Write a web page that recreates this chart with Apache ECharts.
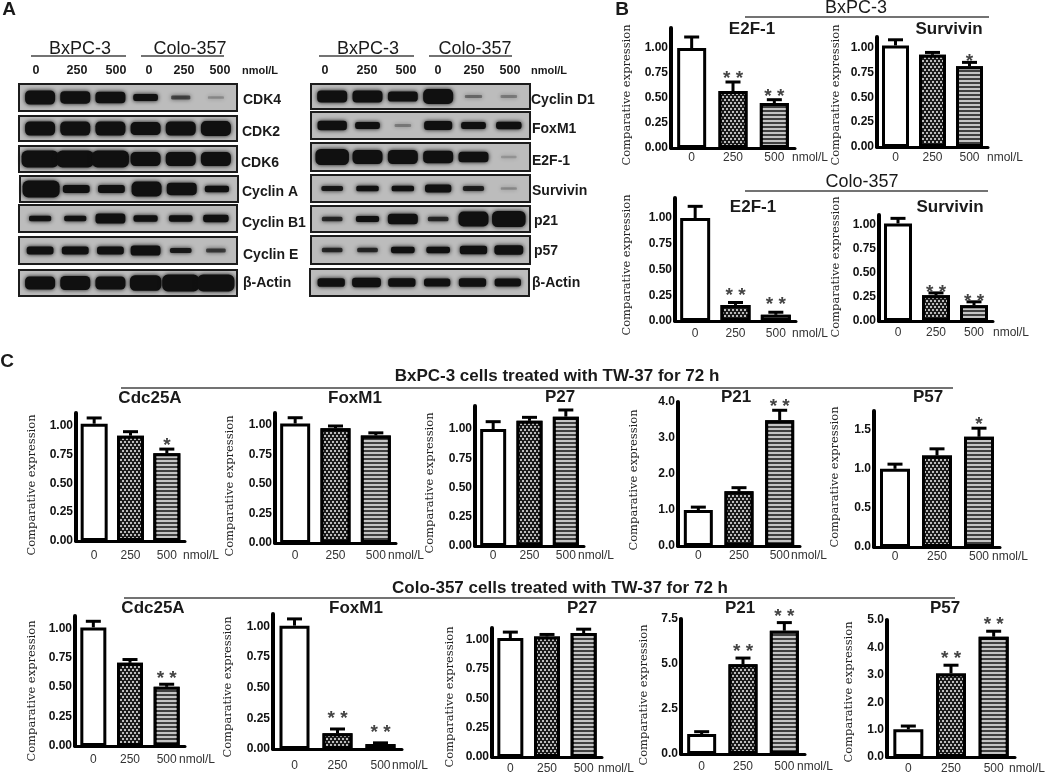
<!DOCTYPE html>
<html><head><meta charset="utf-8">
<style>html,body{margin:0;padding:0;background:#fff}#c{width:1050px;height:776px;filter:blur(0.45px)}</style>
<script src="https://cdn.jsdelivr.net/npm/echarts@6/dist/echarts.min.js"></script>
</head><body><div id="c"></div>
<script>
// ---------- data ----------
const doses = ['0','250','500'];
const ticksFrac = ['0.00','0.25','0.50','0.75','1.00'];
const ticksP21a = ['0.0','1.0','2.0','3.0','4.0'];
const ticksP57a = ['0.0','0.5','1.0','1.5'];
const ticksP21b = ['0.0','2.5','5.0','7.5'];
const ticksP57b = ['0.0','1.0','2.0','3.0','4.0','5.0'];

const bE2f1Bx = [1.0,0.57,0.45],   bE2f1BxErr = [0.11,0.09,0.033],   bE2f1BxStars = ['','* *','* *'];
const bSurvBx = [1.02,0.926,0.81], bSurvBxErr = [0.057,0.024,0.04],  bSurvBxStars = ['','','*'];
const bE2f1Co = [1.0,0.156,0.06],  bE2f1CoErr = [0.114,0.024,0.025], bE2f1CoStars = ['','* *','* *'];
const bSurvCo = [1.017,0.268,0.164], bSurvCoErr = [0.053,0.025,0.036], bSurvCoStars = ['','* *','* *'];

const cCdcBx = [1.017,0.913,0.762], cCdcBxErr = [0.05,0.035,0.035], cCdcBxStars = ['','','*'];
const cFoxBx = [1.011,0.972,0.91],  cFoxBxErr = [0.049,0.018,0.022], cFoxBxStars = ['','',''];
const cP27Bx = [1.0,1.07,1.106],    cP27BxErr = [0.063,0.03,0.057], cP27BxStars = ['','',''];
const cP21Bx = [1.0,1.52,3.49],     cP21BxErr = [0.08,0.1,0.28],    cP21BxStars = ['','','* *'];
const cP57Bx = [1.0,1.17,1.41],     cP57BxErr = [0.06,0.086,0.11],  cP57BxStars = ['','','*'];

const cCdcCo = [1.008,0.707,0.503], cCdcCoErr = [0.052,0.028,0.022], cCdcCoStars = ['','','* *'];
const cFoxCo = [1.005,0.128,0.04],  cFoxCoErr = [0.055,0.035,0.01],  cFoxCoStars = ['','* *','* *'];
const cP27Co = [1.014,1.028,1.057], cP27CoErr = [0.051,0.017,0.033], cP27CoStars = ['','',''];
const cP21Co = [1.11,4.99,6.85],    cP21CoErr = [0.13,0.34,0.45],    cP21CoStars = ['','* *','* *'];
const cP57Co = [1.01,3.05,4.39],    cP57CoErr = [0.12,0.3,0.2],      cP57CoStars = ['','* *','* *'];

const cdk4 = [.85,.75,.7,.42,.2,.08], cdk2 = [.85,.85,.85,.8,.85,.9], cdk6 = [1,1,1,.85,.85,.85];
const cyclinA = [1,.5,.5,.9,.75,.4], cyclinB1 = [.32,.32,.62,.4,.38,.45], cyclinE = [.5,.5,.5,.62,.3,.22];
const actinL = [.78,.85,.78,.92,1,1];
const cyclinD1 = [.72,.72,.62,.9,.13,.1], foxM1 = [.6,.42,.1,.55,.42,.45], e2f1 = [.95,.85,.85,.75,.65,.06];
const survivin = [.3,.33,.33,.48,.28,.08], p21 = [.26,.36,.65,.26,.9,.95], p57 = [.26,.26,.38,.38,.52,.58];
const actinR = [.52,.58,.52,.48,.52,.48];

// ---------- layout ----------
const FS = '"Liberation Sans", Arial, sans-serif', FSERIF = '"DejaVu Serif", serif';
const charts = [
 {v:bE2f1Bx,e:bE2f1BxErr,s:bE2f1BxStars,t:ticksFrac,l:671,r:795,top:28,b:148,max:1.2,lab:158,nx:627,ny:95,mx:792,tx:752,ty:29,title:'E2F-1',g:8,bw:29},
 {v:bSurvBx,e:bSurvBxErr,s:bSurvBxStars,t:ticksFrac,l:877,r:988,top:37,b:147,max:1.105,lab:158,nx:836,ny:95,mx:987,tx:949,ty:29,title:'Survivin',g:6,bw:27},
 {v:bE2f1Co,e:bE2f1CoErr,s:bE2f1CoStars,t:ticksFrac,l:675,r:796,top:198,b:321,max:1.195,lab:334,nx:627,ny:265,mx:792,tx:753,ty:207,title:'E2F-1',g:12,bw:30},
 {v:bSurvCo,e:bSurvCoErr,s:bSurvCoStars,t:ticksFrac,l:879,r:993,top:215,b:321,max:1.105,lab:333,nx:836,ny:267,mx:993,tx:950,ty:207,title:'Survivin',g:5,bw:28},
 {v:cCdcBx,e:cCdcBxErr,s:cCdcBxStars,t:ticksFrac,l:76,r:185,top:413,b:541,max:1.11,lab:556,nx:32,ny:485,mx:183,tx:150,ty:398,title:'Cdc25A',g:8,bw:27},
 {v:cFoxBx,e:cFoxBxErr,s:cFoxBxStars,t:ticksFrac,l:275,r:396,top:413,b:543,max:1.1,lab:556,nx:230,ny:486,mx:388,tx:355,ty:398,title:'FoxM1',g:8,bw:30},
 {v:cP27Bx,e:cP27BxErr,s:cP27BxStars,t:ticksFrac,l:475,r:584,top:406,b:546,max:1.197,lab:556,nx:430,ny:483,mx:578,tx:560,ty:397,title:'P27',g:8,bw:26},
 {v:cP21Bx,e:cP21BxErr,s:cP21BxStars,t:ticksP21a,l:678,r:800,top:402,b:546,max:4,lab:556,nx:634,ny:480,mx:791,tx:736,ty:397,title:'P21',g:9,bw:29},
 {v:cP57Bx,e:cP57BxErr,s:cP57BxStars,t:ticksP57a,l:874,r:1000,top:411,b:547,max:1.74,lab:557,nx:835,ny:477,mx:992,tx:928,ty:397,title:'P57',g:8,bw:30},
 {v:cCdcCo,e:cCdcCoErr,s:cCdcCoStars,t:ticksFrac,l:75,r:185,top:616,b:746,max:1.105,lab:760,nx:32,ny:691,mx:179,tx:153,ty:608,title:'Cdc25A',g:10,bw:26},
 {v:cFoxCo,e:cFoxCoErr,s:cFoxCoStars,t:ticksFrac,l:273,r:402,top:614,b:749,max:1.1,lab:766,nx:228,ny:687,mx:392,tx:356,ty:608,title:'FoxM1',g:15,bw:30},
 {v:cP27Co,e:cP27CoErr,s:cP27CoStars,t:ticksFrac,l:492,r:602,top:628,b:757,max:1.1,lab:769,nx:450,ny:697,mx:598,tx:582,ty:608,title:'P27',g:8,bw:26},
 {v:cP21Co,e:cP21CoErr,s:cP21CoStars,t:ticksP21b,l:681,r:805,top:619,b:754,max:7.5,lab:767,nx:644,ny:695,mx:797,tx:740,ty:608,title:'P21',g:11,bw:29},
 {v:cP57Co,e:cP57CoErr,s:cP57CoStars,t:ticksP57b,l:887,r:1015,top:620,b:757,max:5,lab:769,nx:849,ny:692,mx:1009,tx:945,ty:608,title:'P57',g:11,bw:30}
];
const blots = [
 {d:cdk4,x:19,w:218,y:84,h:27,n:'CDK4',lx:243,ly:100},
 {d:cdk2,x:19,w:218,y:116,h:25,n:'CDK2',lx:242,ly:132},
 {d:cdk6,x:19,w:218,y:146,h:26,n:'CDK6',lx:241,ly:163},
 {d:cyclinA,x:20,w:218,y:176,h:26,n:'Cyclin A',lx:242,ly:192},
 {d:cyclinB1,x:19,w:218,y:205,h:27,n:'Cyclin B1',lx:242,ly:223},
 {d:cyclinE,x:19,w:218,y:237,h:27,n:'Cyclin E',lx:243,ly:255},
 {d:actinL,x:19,w:218,y:270,h:26,n:'β-Actin',lx:243,ly:283},
 {d:cyclinD1,x:311,w:219,y:84,h:25,n:'Cyclin D1',lx:531,ly:100},
 {d:foxM1,x:311,w:219,y:112,h:27,n:'FoxM1',lx:532,ly:129},
 {d:e2f1,x:311,w:219,y:143,h:28,n:'E2F-1',lx:532,ly:161},
 {d:survivin,x:311,w:219,y:175,h:27,n:'Survivin',lx:532,ly:191},
 {d:p21,x:311,w:219,y:206,h:26,n:'p21',lx:534,ly:221},
 {d:p57,x:311,w:219,y:236,h:28,n:'p57',lx:534,ly:251},
 {d:actinR,x:310,w:219,y:269,h:27,n:'β-Actin',lx:532,ly:283}
];
const laneHeads = [
 {lanes:[36,77,116,149,184,220],unit:242,a:80,b:190,la:[31,126],lb:[141,224]},
 {lanes:[325,367,406,438,474,510],unit:531,a:368,b:475,la:[319,414],lb:[429,512]}
];

// ---------- styles ----------
const dotted = {symbol:'circle',symbolSize:1,color:'#f2f2f2',dashArrayX:[[2,2],[0,2,2,0]],dashArrayY:[2,1]};
const striped = {symbol:'rect',symbolSize:1,color:'#c4c4c4',dashArrayX:[1,0],dashArrayY:[2,2]};
const barStyles = [
 {color:'#fff',borderColor:'#000',borderWidth:3},
 {color:'#1a1a1a',borderColor:'#000',borderWidth:3,decal:dotted},
 {color:'#404040',borderColor:'#000',borderWidth:3,decal:striped}
];

function renderBand(p,api){
  const d=api.value(1), c=api.coord([api.value(0),0]);
  const h=2+15*Math.pow(d,1.3), w=14+16*Math.min(1,d*1.6)+Math.max(0,d-0.9)*70;
  return {type:'rect',shape:{x:c[0]-w/2,y:c[1]-h/2,width:w,height:h,r:h/3},
    style:{fill:'#101010',opacity:Math.min(1,d*3),shadowBlur:4,shadowColor:'#101010'}};
}
function renderErr(ch){ return function(p,api){
  const i=api.value(0), v=api.value(1), e=api.value(2);
  const a=api.coord([i,v]), b=api.coord([i,v+e]);
  const st={stroke:'#000',lineWidth:3};
  const kids=[
    {type:'line',shape:{x1:a[0],y1:a[1],x2:b[0],y2:b[1]},style:st},
    {type:'line',shape:{x1:b[0]-7.5,y1:b[1],x2:b[0]+7.5,y2:b[1]},style:st}];
  const s=ch.s[i];
  if(s) kids.push({type:'text',x:b[0],y:b[1]-ch.g+5,style:{text:s,font:'bold 19px '+FS,fill:'#444',align:'center',verticalAlign:'middle'}});
  return {type:'group',children:kids};
};}

const grid=[],xAxis=[],yAxis=[],series=[],graphic=[];
function txt(text,x,y,font,extra){graphic.push(Object.assign({type:'text',silent:true,style:Object.assign({text,x,y,font,fill:'#1a1a1a',align:'center',verticalAlign:'middle'},extra||{})}));}
function rule(x1,x2,y){graphic.push({type:'line',silent:true,shape:{x1,y1:y,x2,y2:y},style:{stroke:'#444',lineWidth:1.5}});}

blots.forEach(b=>{
  const k=grid.length;
  grid.push({show:true,left:b.x,top:b.y,width:b.w,height:b.h,backgroundColor:'#bcbcbc',borderColor:'#1c1c1c',borderWidth:2});
  xAxis.push({gridIndex:k,type:'value',min:-0.6,max:5.6,show:false});
  yAxis.push({gridIndex:k,type:'value',min:-1,max:1,show:false});
  series.push({type:'custom',name:b.n,xAxisIndex:k,yAxisIndex:k,renderItem:renderBand,encode:{x:0,y:2},silent:true,
    data:b.d.map((d,i)=>[i,d,0])});
  txt(b.n,b.lx,b.ly,'bold 14px '+FS,{align:'left'});
});
charts.forEach(c=>{
  const k=grid.length;
  grid.push({left:c.l,top:c.top,width:c.r-c.l,height:c.b-c.top});
  xAxis.push({gridIndex:k,type:'category',data:doses,
    axisLine:{lineStyle:{color:'#000',width:3}},axisTick:{show:false},
    axisLabel:{margin:c.lab-6-c.b,color:'#333',fontFamily:'"Liberation Sans"',fontSize:12,interval:0,verticalAlign:'top'}});
  const vals=c.t.map(Number);
  yAxis.push({gridIndex:k,type:'value',min:0,max:c.max,splitLine:{show:false},
    axisLine:{show:true,lineStyle:{color:'#000',width:4}},
    axisTick:{show:true,length:2,lineStyle:{color:'#000',width:2},customValues:vals},
    axisLabel:{margin:3,color:'#111',fontFamily:'"Liberation Sans"',fontWeight:'bold',fontSize:12,customValues:vals,
      formatter:v=>c.t[vals.findIndex(x=>Math.abs(x-v)<1e-6)]}});
  series.push({type:'bar',name:c.title,xAxisIndex:k,yAxisIndex:k,barWidth:c.bw,silent:true,
    data:c.v.map((v,i)=>({value:v,itemStyle:barStyles[i]}))});
  series.push({type:'custom',xAxisIndex:k,yAxisIndex:k,renderItem:renderErr(c),silent:true,z:5,encode:{x:0,y:1},
    data:c.v.map((v,i)=>[i,v,c.e[i]])});
  txt('Comparative expression',c.nx,c.ny,'11.5px '+FSERIF,{fill:'#222'});
  const last=graphic[graphic.length-1];
  last.style.x=0; last.style.y=0; last.x=c.nx; last.y=c.ny; last.rotation=Math.PI/2;
  txt('nmol/L',c.mx,c.lab,'12px '+FS,{align:'left',fill:'#333'});
  txt(c.title,c.tx,c.ty,'bold 17px '+FS);
});
// panel letters
txt('A',9,10,'bold 19px '+FS); txt('B',622,10,'bold 19px '+FS); txt('C',7,362,'bold 19px '+FS);
// blot headers
laneHeads.forEach(h=>{
  txt('BxPC-3',h.a,49,'18px '+FS); txt('Colo-357',h.b,49,'18px '+FS);
  rule(h.la[0],h.la[1],56); rule(h.lb[0],h.lb[1],56);
  h.lanes.forEach((x,i)=>txt(doses[i%3],x,71,'bold 12.5px '+FS));
  txt('nmol/L',h.unit,71,'bold 11px '+FS,{align:'left'});
});
// group headers
txt('BxPC-3',856,8,'18px '+FS); rule(745,989,17);
txt('Colo-357',862,182,'18px '+FS); rule(745,988,191);
txt('BxPC-3 cells treated with TW-37 for 72 h',557,376,'bold 17px '+FS); rule(121,953,388);
txt('Colo-357 cells treated with TW-37 for 72 h',560,588,'bold 17px '+FS); rule(124,955,598);

const chart=echarts.init(document.getElementById('c'),null,{renderer:'canvas',width:1050,height:776});
chart.setOption({animation:false,backgroundColor:'#fff',grid,xAxis,yAxis,series,graphic:{elements:graphic}});
</script></body></html>
